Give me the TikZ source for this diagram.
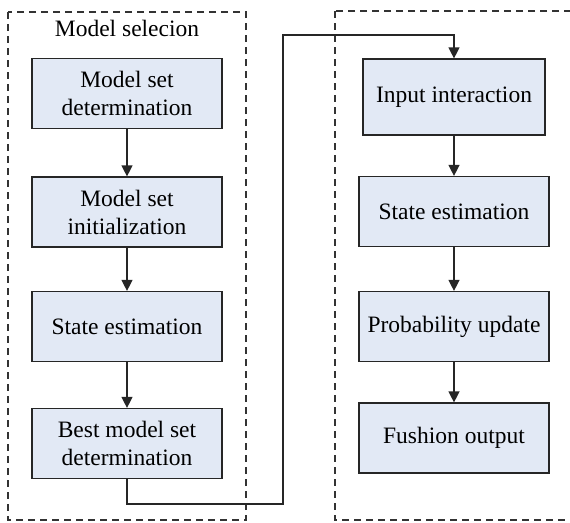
\documentclass[tikz,border=0pt]{standalone}
\usepackage{fontspec}
\setmainfont{Liberation Serif}
\usetikzlibrary{arrows.meta}

\definecolor{boxfill}{RGB}{226,233,245}

\tikzset{
  stage/.style={draw=black!85, line width=1.2pt, fill=boxfill,
    minimum width=190pt, minimum height=70pt, align=center,
    font=\fontsize{23.5}{28}\selectfont},
  group/.style={draw=black!80, line width=1.2pt, dash pattern=on 7pt off 5pt},
  flow/.style={draw=black!85, line width=1.3pt,
    -{Triangle[length=11pt,width=11pt]}}
}

\begin{document}
\begin{tikzpicture}[x=1pt,y=-1pt]
  \useasboundingbox (0,0) rectangle (570,522);
  \clip (0,0) rectangle (570,522);

  % the two dashed groups
  \draw[group] (8,12) rectangle (246,520);
  \draw[group] (335,11) rectangle (580,520);
  \node[font=\fontsize{23.5}{28}\selectfont] (title) at (127,28) {Model selecion};

  % left column
  \node[stage] (msd) at (127,93.5) {Model set\\determination};
  \node[stage] (msi) at (127,212) {Model set\\initialization};
  \node[stage] (sel) at (127,326.5) {State estimation};
  \node[stage] (best) at (127,443.5) {Best model set\\determination};

  % right column
  \node[stage, minimum width=182pt, minimum height=76pt] (inp) at (454,97) {Input interaction};
  \node[stage] (est) at (454,211.5) {State estimation};
  \node[stage] (prob) at (454,326.5) {Probability update};
  \node[stage] (fus) at (454,438) {Fushion output};

  \foreach \a/\b in {msd/msi, msi/sel, sel/best, inp/est, est/prob, prob/fus}
    \draw[flow] (\a) -- (\b);

  % link between the groups
  \coordinate (low) at (283,504);
  \coordinate (high) at (283,35);
  \draw[flow] (best.south) |- (low) -- (high) -| (inp.north);
\end{tikzpicture}
\end{document}
